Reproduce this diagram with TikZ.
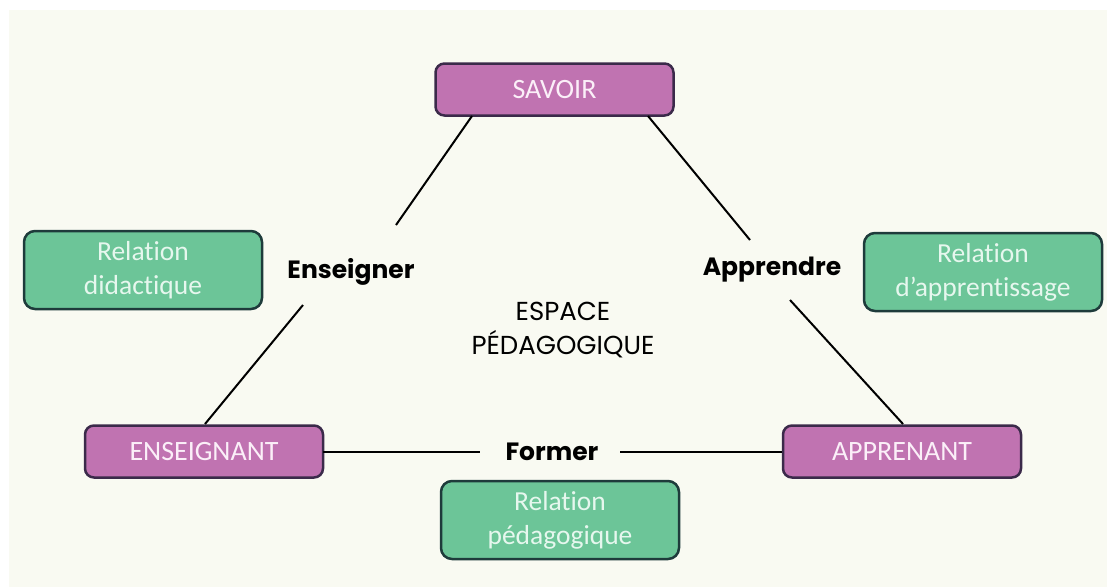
\documentclass[tikz,border=0pt]{standalone}
\usepackage{fontspec}
\setmainfont{Carlito}[Ligatures=NoCommon]
\newfontfamily\labfont{Poppins}
\newfontfamily\espfont{Poppins}
\definecolor{bgcream}{HTML}{F9FAF2}
\definecolor{pinkfill}{HTML}{C073B1}
\definecolor{pinkline}{HTML}{3B2A4A}
\definecolor{greenfill}{HTML}{6CC598}
\definecolor{greenline}{HTML}{1E3B3B}
\definecolor{greentext}{HTML}{E6F7EE}
\definecolor{pinktext}{HTML}{FBEFF8}
\tikzset{
  pole/.style={draw=pinkline, line width=2.5pt, fill=pinkfill, rounded corners=9pt,
    minimum width=238pt, minimum height=52pt, inner sep=0pt, text=pinktext,
    font=\fontsize{28}{32}\selectfont},
  relbox/.style={draw=greenline, line width=2.5pt, fill=greenfill, rounded corners=11pt,
    minimum width=238pt, minimum height=78pt, inner sep=0pt, text=greentext,
    align=center, font=\fontsize{27.5}{34}\selectfont},
  verb/.style={font=\labfont\bfseries\fontsize{25}{28}\selectfont, inner sep=0pt},
  link/.style={line width=2pt, black}
}
\begin{document}
\begin{tikzpicture}[x=1pt,y=-1pt]
\useasboundingbox (0,0) rectangle (1107,587);
\fill[white] (0,0) rectangle (1107,587);
\fill[bgcream] (9,10) rectangle (1107,587);
% poles
\node[pole] (savoir) at (554.5,89.5) {SAVOIR};
\node[pole] (ens) at (204,451.5) {ENSEIGNANT};
\node[pole] (app) at (902,451.5) {APPRENANT};
% relation boxes
\node[relbox] (rdid) at (143,270) {Relation\\didactique};
\node[relbox] (rapp) at (983,272) {Relation\\d’apprentissage};
\node[relbox] (rped) at (560,520) {Relation\\pédagogique};
% verbs
\node[verb] (enseigner) at (351,272) {Enseigner};
\node[verb] (apprendre) at (772,270) {Apprendre};
\node[verb] (former) at (552,452) {Former};
% centre
\node[font=\espfont\fontsize{26}{34}\selectfont, align=center, inner sep=0pt] (espace) at (563,330) {ESPACE\\PÉDAGOGIQUE};
% connector ends
\coordinate (s1) at (472,116);
\coordinate (s1e) at (396,225);
\coordinate (e1s) at (303,305);
\coordinate (e1) at (205,424);
\coordinate (s2) at (648,116);
\coordinate (s2e) at (750,240);
\coordinate (a1s) at (790,300);
\coordinate (a1) at (903,424);
\coordinate (e2) at (323,452);
\coordinate (f1) at (480,452);
\coordinate (f2) at (620,452);
\coordinate (a2) at (782,452);
\draw[link] (s1) -- (s1e);
\draw[link] (e1s) -- (e1);
\draw[link] (s2) -- (s2e);
\draw[link] (a1s) -- (a1);
\draw[link] (e2) -- (f1);
\draw[link] (f2) -- (a2);
\end{tikzpicture}
\end{document}
